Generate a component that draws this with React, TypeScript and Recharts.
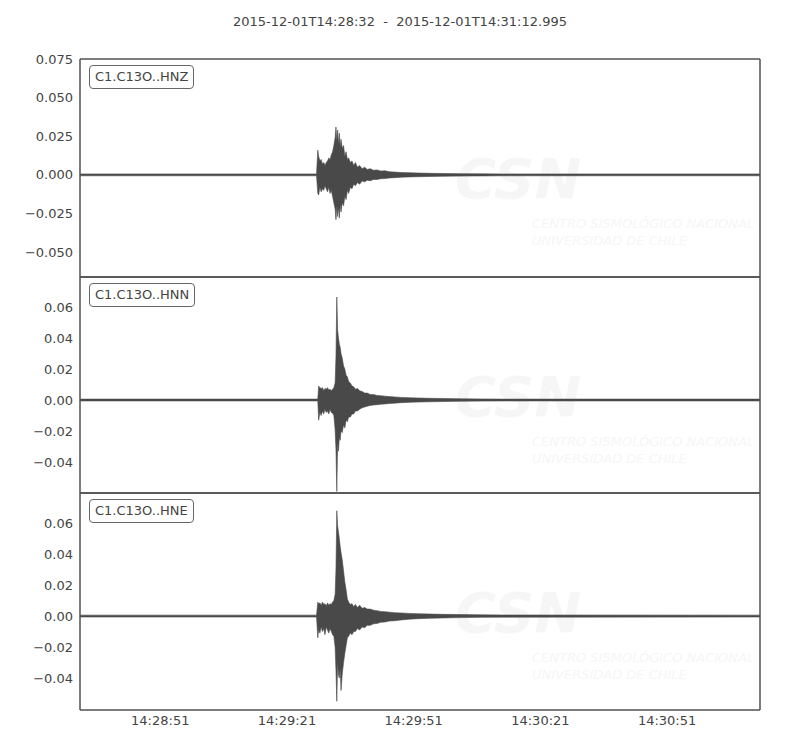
import React from 'react';
import { ComposedChart, Area, XAxis, YAxis } from 'recharts';

// seconds after 14:28:32
const times = [
  0, 56.0, 56.3, 56.5, 56.8, 57.1, 57.4, 57.7, 58.0, 58.3,
  58.6, 58.9, 59.2, 59.5, 59.8, 60.1, 60.4, 60.6, 60.8, 61.0,
  61.2, 61.4, 61.6, 61.8, 62.1, 62.4, 62.7, 63.0, 63.3, 63.6,
  64.0, 64.4, 64.8, 65.2, 65.7, 66.2, 66.8, 67.4, 68.0, 68.7,
  69.5, 70.3, 71.2, 72.2, 73.3, 74.5, 76.0, 78.0, 80.0, 83.0,
  86.0, 90.0, 95.0, 100.0, 160.995,
];

const hnzHigh = [
  0.0006, 0.0006, 0.016, 0.012, 0.009, 0.01, 0.007, 0.008, 0.006, 0.008,
  0.009, 0.011, 0.01, 0.013, 0.015, 0.019, 0.024, 0.031, 0.022, 0.029,
  0.02, 0.027, 0.018, 0.023, 0.017, 0.019, 0.012, 0.015, 0.01, 0.011,
  0.008, 0.009, 0.006, 0.008, 0.005, 0.006, 0.004, 0.005, 0.0035, 0.004,
  0.003, 0.0032, 0.0025, 0.0026, 0.002, 0.0018, 0.0015, 0.0014, 0.0012, 0.001,
  0.0009, 0.0008, 0.0007, 0.0006, 0.0006,
];
const hnzLow = [
  -0.0006, -0.0006, -0.012, -0.013, -0.008, -0.011, -0.009, -0.01, -0.007, -0.009,
  -0.011, -0.008, -0.012, -0.01, -0.014, -0.018, -0.022, -0.029, -0.02, -0.027,
  -0.021, -0.028, -0.019, -0.024, -0.018, -0.02, -0.014, -0.016, -0.01, -0.012,
  -0.008, -0.009, -0.006, -0.007, -0.005, -0.006, -0.004, -0.0045, -0.0035, -0.0038,
  -0.003, -0.003, -0.0025, -0.0024, -0.002, -0.0018, -0.0015, -0.0013, -0.0012, -0.001,
  -0.0009, -0.0008, -0.0007, -0.0006, -0.0006,
];

const hnnHigh = [
  0.0006, 0.0006, 0.0006, 0.009, 0.008, 0.0075, 0.008, 0.006, 0.0075, 0.007,
  0.008, 0.0065, 0.007, 0.006, 0.007, 0.008, 0.011, 0.028, 0.0665, 0.045,
  0.04, 0.036, 0.034, 0.03, 0.027, 0.022, 0.02, 0.016, 0.015, 0.012,
  0.011, 0.009, 0.0085, 0.007, 0.0075, 0.006, 0.0055, 0.0045, 0.0045, 0.0035,
  0.0035, 0.003, 0.0028, 0.0025, 0.0022, 0.002, 0.0017, 0.0015, 0.0013, 0.0011,
  0.001, 0.0008, 0.0007, 0.0006, 0.0006,
];
const hnnLow = [
  -0.0006, -0.0006, -0.0006, -0.013, -0.008, -0.01, -0.007, -0.009, -0.006, -0.008,
  -0.007, -0.009, -0.006, -0.008, -0.0085, -0.01, -0.019, -0.032, -0.059, -0.028,
  -0.033, -0.024, -0.026, -0.02, -0.021, -0.016, -0.018, -0.013, -0.014, -0.011,
  -0.011, -0.009, -0.009, -0.007, -0.007, -0.006, -0.005, -0.0045, -0.004, -0.0035,
  -0.0032, -0.003, -0.0027, -0.0025, -0.0022, -0.002, -0.0017, -0.0015, -0.0013, -0.0011,
  -0.001, -0.0008, -0.0007, -0.0006, -0.0006,
];

const hneHigh = [
  0.0006, 0.0006, 0.009, 0.008, 0.0085, 0.007, 0.009, 0.0075, 0.008, 0.0065,
  0.0085, 0.007, 0.008, 0.0075, 0.009, 0.01, 0.014, 0.03, 0.068, 0.058,
  0.054, 0.05, 0.045, 0.041, 0.036, 0.029, 0.022, 0.017, 0.011, 0.009,
  0.0075, 0.008, 0.006, 0.0075, 0.0055, 0.007, 0.005, 0.0055, 0.0045, 0.0045,
  0.0038, 0.0035, 0.003, 0.0028, 0.0025, 0.0022, 0.002, 0.0017, 0.0015, 0.0013,
  0.0011, 0.001, 0.0008, 0.0007, 0.0006,
];
const hneLow = [
  -0.0006, -0.0006, -0.014, -0.009, -0.011, -0.007, -0.01, -0.008, -0.012, -0.007,
  -0.009, -0.011, -0.008, -0.01, -0.012, -0.013, -0.02, -0.035, -0.055, -0.03,
  -0.038, -0.04, -0.034, -0.048, -0.037, -0.03, -0.024, -0.019, -0.014, -0.013,
  -0.011, -0.012, -0.01, -0.01, -0.008, -0.009, -0.007, -0.0075, -0.006, -0.006,
  -0.005, -0.0048, -0.004, -0.0038, -0.0032, -0.003, -0.0025, -0.002, -0.0017, -0.0014,
  -0.0012, -0.001, -0.0008, -0.0007, -0.0006,
];

const channels = ['C1.C13O..HNZ', 'C1.C13O..HNN', 'C1.C13O..HNE'];
const yTicksZ = [0.075, 0.05, 0.025, 0, -0.025, -0.05];
const yTicksNE = [0.06, 0.04, 0.02, 0, -0.02, -0.04];
const xTicks = [19, 49, 79, 109, 139];
const xTickLabels = ['14:28:51', '14:29:21', '14:29:51', '14:30:21', '14:30:51'];
const title = '2015-12-01T14:28:32  -  2015-12-01T14:31:12.995';

const END = 160.995;
const FRAME = '#505050';
const TEXT = '#444';
const WAVE = '#494949';
const WATER = '#f6f6f6';

const rows = times.map((t, i) => ({
  t,
  z: [hnzLow[i], hnzHigh[i]],
  n: [hnnLow[i], hnnHigh[i]],
  e: [hneLow[i], hneHigh[i]],
}));

const fmt = (digits: number) => (v: number) =>
  (v < 0 ? '\u2212' : '') + Math.abs(v).toFixed(digits);

interface PanelProps {
  dataKey: string;
  domain: [number, number];
  ticks: number[];
  digits: number;
  showTime: boolean;
  top: number;
  height: number;
}

const Panel: React.FC<PanelProps> = ({ dataKey, domain, ticks, digits, showTime, top, height }) => (
  <div style={{ position: 'absolute', left: 0, top }}>
    <ComposedChart
      width={800}
      height={height}
      data={rows}
      margin={{ top: 10, right: 40, bottom: 2, left: 10 }}
    >
      <XAxis
        xAxisId="b"
        dataKey="t"
        type="number"
        domain={[0, END]}
        allowDataOverflow
        ticks={xTicks}
        interval={0}
        mirror={!showTime}
        height={30}
        axisLine={{ stroke: FRAME, strokeWidth: 1.5 }}
        tickLine={showTime ? false : { stroke: FRAME }}
        tickSize={showTime ? 0 : 4}
        tickMargin={6}
        tick={showTime ? { fill: TEXT, fontSize: 13 } : false}
        tickFormatter={(v: number) => xTickLabels[xTicks.indexOf(v)] ?? ''}
      />
      {showTime && (
        <XAxis
          xAxisId="bm"
          type="number"
          domain={[0, END]}
          ticks={xTicks}
          interval={0}
          mirror
          axisLine={false}
          tickLine={{ stroke: FRAME }}
          tickSize={4}
          tick={false}
        />
      )}
      <XAxis
        xAxisId="tp"
        orientation="top"
        type="number"
        domain={[0, END]}
        ticks={xTicks}
        interval={0}
        mirror
        axisLine={{ stroke: FRAME, strokeWidth: 1.5 }}
        tickLine={{ stroke: FRAME }}
        tickSize={4}
        tick={false}
      />
      <YAxis
        yAxisId="l"
        width={70}
        type="number"
        domain={domain}
        allowDataOverflow
        ticks={ticks}
        interval={0}
        axisLine={{ stroke: FRAME, strokeWidth: 1.5 }}
        tickLine={false}
        tickSize={0}
        tickMargin={7}
        tick={{ fill: TEXT, fontSize: 13 }}
        tickFormatter={fmt(digits)}
      />
      <YAxis
        yAxisId="lm"
        type="number"
        domain={domain}
        allowDataOverflow
        ticks={ticks}
        interval={0}
        mirror
        axisLine={false}
        tickLine={{ stroke: FRAME }}
        tickSize={4}
        tick={false}
      />
      <YAxis
        yAxisId="r"
        orientation="right"
        type="number"
        domain={domain}
        allowDataOverflow
        ticks={ticks}
        interval={0}
        mirror
        axisLine={{ stroke: FRAME, strokeWidth: 1.5 }}
        tickLine={{ stroke: FRAME }}
        tickSize={4}
        tick={false}
      />
      <Area
        xAxisId="b"
        yAxisId="l"
        dataKey={dataKey}
        type="linear"
        stroke={WAVE}
        strokeWidth={0.6}
        fill={WAVE}
        fillOpacity={1}
        dot={false}
        activeDot={false}
        isAnimationActive={false}
      />
    </ComposedChart>
  </div>
);

const panelTops = [59, 277, 493];

const Watermark: React.FC<{ top: number }> = ({ top }) => (
  <>
    <div
      style={{
        position: 'absolute',
        left: 455,
        top: top + 92,
        fontSize: 56,
        fontWeight: 'bold',
        fontStyle: 'italic',
        lineHeight: 1,
        color: WATER,
      }}
    >
      CSN
    </div>
    <div
      style={{
        position: 'absolute',
        left: 532,
        top: top + 156,
        fontSize: 13,
        fontStyle: 'italic',
        lineHeight: '17px',
        color: WATER,
        whiteSpace: 'nowrap',
      }}
    >
      <div>CENTRO SISMOLÓGICO NACIONAL</div>
      <div>UNIVERSIDAD DE CHILE</div>
    </div>
  </>
);

export default function App() {
  return (
    <div
      style={{
        position: 'relative',
        width: 800,
        height: 750,
        margin: -8,
        background: '#fff',
        fontFamily: '"DejaVu Sans", sans-serif',
        overflow: 'hidden',
      }}
    >
      <div
        style={{
          position: 'absolute',
          left: 0,
          width: 800,
          top: 14,
          textAlign: 'center',
          fontSize: 13,
          color: TEXT,
          whiteSpace: 'pre',
        }}
      >
        {title}
      </div>
      {panelTops.map((t) => (
        <Watermark key={t} top={t} />
      ))}
      <Panel dataKey="z" domain={[-0.0661, 0.075]} ticks={yTicksZ} digits={3} showTime={false} top={49} height={230} />
      <Panel dataKey="n" domain={[-0.06, 0.0794]} ticks={yTicksNE} digits={2} showTime={false} top={267} height={228} />
      <Panel dataKey="e" domain={[-0.0606, 0.0794]} ticks={yTicksNE} digits={2} showTime={true} top={483} height={259} />
      {channels.map((c, i) => (
        <div
          key={c}
          style={{
            position: 'absolute',
            left: 89,
            top: panelTops[i] + 6,
            padding: '2px 5px',
            border: '1px solid #666',
            borderRadius: 4,
            background: '#fff',
            fontSize: 13,
            lineHeight: '18px',
            color: TEXT,
          }}
        >
          {c}
        </div>
      ))}
    </div>
  );
}
